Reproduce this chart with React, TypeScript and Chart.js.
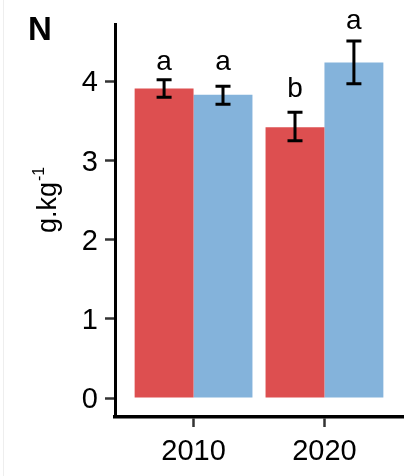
import React, { useEffect, useRef } from "react";
import { Chart, registerables } from "chart.js";

Chart.register(...registerables);

const categories = ["2010", "2020"];
const redValues = [3.91, 3.42];
const blueValues = [3.83, 4.24];
const redErrLow = [3.8, 3.25];
const redErrHigh = [4.02, 3.61];
const blueErrLow = [3.71, 3.97];
const blueErrHigh = [3.94, 4.51];
const redLetters = ["a", "b"];
const blueLetters = ["a", "a"];
const redLetterY = [4.15, 3.8];
const blueLetterY = [4.15, 4.66];
const yTicks = [0, 1, 2, 3, 4];
const panelLabel = "N";
const yTitle = "g.kg";
const yTitleSup = "-1";

const FONT = "'Liberation Sans', Arial, Helvetica, sans-serif";

const errorPlugin = {
  id: "errorAndText",
  afterDatasetsDraw(chart: any) {
    const ctx = chart.ctx;
    const y = chart.scales.y;
    const lows = [redErrLow, blueErrLow];
    const highs = [redErrHigh, blueErrHigh];
    const letters = [redLetters, blueLetters];
    const letterY = [redLetterY, blueLetterY];
    ctx.save();
    chart.data.datasets.forEach((_ds: any, i: number) => {
      const meta = chart.getDatasetMeta(i);
      meta.data.forEach((bar: any, j: number) => {
        const x = bar.x;
        const yl = y.getPixelForValue(lows[i][j]);
        const yh = y.getPixelForValue(highs[i][j]);
        ctx.strokeStyle = "#000";
        ctx.lineWidth = 3;
        ctx.lineCap = "butt";
        ctx.beginPath();
        ctx.moveTo(x, yl);
        ctx.lineTo(x, yh);
        ctx.moveTo(x - 7.5, yl);
        ctx.lineTo(x + 7.5, yl);
        ctx.moveTo(x - 7.5, yh);
        ctx.lineTo(x + 7.5, yh);
        ctx.stroke();
        ctx.fillStyle = "#000";
        ctx.font = `28px ${FONT}`;
        ctx.textAlign = "center";
        ctx.textBaseline = "alphabetic";
        ctx.fillText(letters[i][j], x, y.getPixelForValue(letterY[i][j]));
      });
    });
    // panel label
    ctx.font = `bold 33px ${FONT}`;
    ctx.textAlign = "left";
    ctx.textBaseline = "alphabetic";
    ctx.fillText(panelLabel, 28, 40);
    // y title
    ctx.translate(56, 233);
    ctx.rotate(-Math.PI / 2);
    ctx.font = `27px ${FONT}`;
    ctx.fillText(yTitle, 0, 0);
    const w = ctx.measureText(yTitle).width;
    ctx.font = `16px ${FONT}`;
    ctx.fillText(yTitleSup, w + 1, -12);
    ctx.restore();
    // faint left border
    ctx.save();
    ctx.strokeStyle = "#eeeeee";
    ctx.lineWidth = 1;
    ctx.beginPath();
    ctx.moveTo(3.5, 0);
    ctx.lineTo(3.5, 476);
    ctx.stroke();
    ctx.restore();
  },
};

export default function App() {
  const ref = useRef<HTMLCanvasElement | null>(null);
  useEffect(() => {
    if (!ref.current) return;
    const chart = new Chart(ref.current, {
      type: "bar",
      data: {
        datasets: [
          {
            data: redValues.map((v, i) => ({ x: i + 1, y: v })),
            backgroundColor: "rgb(221,79,80)",
            borderWidth: 0,
          },
          {
            data: blueValues.map((v, i) => ({ x: i + 1, y: v })),
            backgroundColor: "rgb(132,179,219)",
            borderWidth: 0,
          },
        ],
      },
      options: {
        responsive: false,
        animation: false,
        devicePixelRatio: 1,
        layout: { padding: { left: 0, right: 1, top: 18, bottom: 0 } },
        plugins: { legend: { display: false }, tooltip: { enabled: false } },
        datasets: { bar: { categoryPercentage: 0.9, barPercentage: 1.0 } },
        scales: {
          x: {
            type: "linear",
            min: 0.4,
            max: 2.6,
            offset: false,
            afterBuildTicks: (s: any) => {
              s.ticks = categories.map((_c, i) => ({ value: i + 1 }));
            },
            afterFit: (s: any) => {
              s.height = 59;
            },
            ticks: {
              callback: (v: any) => categories[Math.round(v) - 1] ?? "",
              color: "#000",
              font: { family: FONT, size: 29 },
              padding: 8,
              maxRotation: 0,
              autoSkip: false,
            },
            grid: {
              display: true,
              offset: false,
              drawOnChartArea: false,
              drawTicks: true,
              tickLength: 10,
              tickColor: "#333",
              tickWidth: 2.5,
            },
            border: { display: true, color: "#000", width: 3.5 },
          },
          y: {
            type: "linear",
            min: -0.24,
            max: 4.72,
            afterBuildTicks: (s: any) => {
              s.ticks = yTicks.map((v) => ({ value: v }));
            },
            afterFit: (s: any) => {
              s.width = 115;
            },
            ticks: {
              color: "#000",
              font: { family: FONT, size: 29 },
              padding: 7,
              labelOffset: 2,
            },
            grid: {
              display: true,
              offset: false,
              drawOnChartArea: false,
              drawTicks: true,
              tickLength: 10,
              tickColor: "#333",
              tickWidth: 2.5,
            },
            border: { display: true, color: "#000", width: 3 },
          },
        },
      },
      plugins: [errorPlugin],
    });
    return () => chart.destroy();
  }, []);
  return (
    <div style={{ position: "absolute", left: 0, top: 0, width: 404, height: 476, background: "#fff" }}>
      <canvas ref={ref} width={404} height={476} />
    </div>
  );
}
